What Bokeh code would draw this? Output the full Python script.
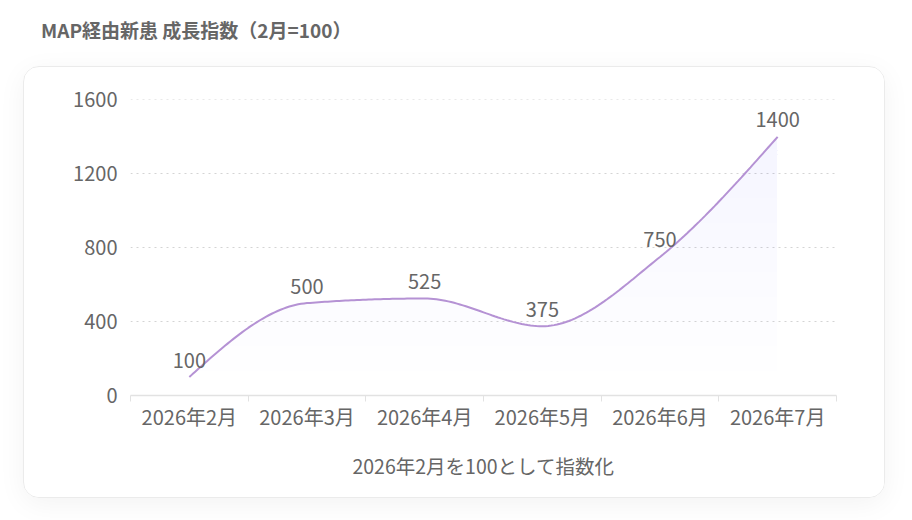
import numpy as np
from bokeh.plotting import figure
from bokeh.models import FixedTicker, Div, ColumnDataSource
from bokeh.layouts import column
from bokeh.core.properties import value
from bokeh.embed import file_html
from bokeh.resources import INLINE

# データ
months = ["2026年2月", "2026年3月", "2026年4月", "2026年5月", "2026年6月", "2026年7月"]
index_values = [100, 500, 525, 375, 750, 1400]
y_ticks = [0, 400, 800, 1200, 1600]
title_text = "MAP経由新患 成長指数（2月=100）"
axis_title = "2026年2月を100として指数化"

FONT = "Noto Sans CJK JP"
GRAY = "#666666"
LINE = "#b592d4"
FILL = "#c49bd8"

x_pos = np.arange(len(months)) + 0.5
y_val = np.array(index_values, dtype=float)


def monotone_curve(x, y, steps=40):
    # d3 monotoneX と同じ傾きで三次ベジェ補間
    n = len(x)
    h = np.diff(x)
    s = np.diff(y) / h
    t = np.zeros(n)
    for i in range(1, n - 1):
        p = (s[i - 1] * h[i] + s[i] * h[i - 1]) / (h[i - 1] + h[i])
        t[i] = (np.sign(s[i - 1]) + np.sign(s[i])) * min(abs(s[i - 1]), abs(s[i]), 0.5 * abs(p))
    t[0] = (3 * s[0] - t[1]) / 2
    t[-1] = (3 * s[-1] - t[-2]) / 2
    xs, ys = [], []
    for i in range(n - 1):
        dx = h[i] / 3
        p0 = (x[i], y[i])
        p1 = (x[i] + dx, y[i] + dx * t[i])
        p2 = (x[i + 1] - dx, y[i + 1] - dx * t[i + 1])
        p3 = (x[i + 1], y[i + 1])
        u = np.linspace(0, 1, steps, endpoint=(i == n - 2))
        a, b, c, d = (1 - u) ** 3, 3 * u * (1 - u) ** 2, 3 * u ** 2 * (1 - u), u ** 3
        xs.extend(a * p0[0] + b * p1[0] + c * p2[0] + d * p3[0])
        ys.extend(a * p0[1] + b * p1[1] + c * p2[1] + d * p3[1])
    return np.array(xs), np.array(ys)


cx, cy = monotone_curve(x_pos, y_val)

p = figure(width=862, height=432, x_range=(0, len(months)), y_range=(0, y_ticks[-1] + 2),
           output_backend="svg", toolbar_location=None,
           min_border_left=106, min_border_right=50, min_border_top=32, min_border_bottom=104)
p.outline_line_color = None
p.background_fill_color = "white"
p.border_fill_color = "white"
p.styles = {"border-radius": "16px", "border": "1px solid #ebebeb",
            "box-shadow": "0 6px 28px rgba(0,0,0,0.05)", "overflow": "hidden",
            "transform": "translateX(23px)"}

# グラデーション風の塗り（上ほど濃い）
n_bands = 12
for k in range(1, n_bands + 1):
    level = y_ticks[-1] * k / n_bands
    lower = np.minimum(cy, level)
    p.varea(x=cx, y1=lower, y2=cy, fill_color=FILL, fill_alpha=0.01)

p.line(cx, cy, line_color=LINE, line_width=2)

src = ColumnDataSource(dict(x=x_pos, y=y_val, label=[str(v) for v in index_values]))
p.text(x="x", y="y", text="label", source=src, text_align="center", text_baseline="middle",
       y_offset=-17, text_color=GRAY, text_font=value(FONT), text_font_size="20px")

# x 軸
p.xaxis.ticker = FixedTicker(ticks=list(x_pos), minor_ticks=list(range(len(months) + 1)))
p.xaxis.major_label_overrides = {float(xp): m for xp, m in zip(x_pos, months)}
p.xaxis.major_tick_out = 0
p.xaxis.major_tick_in = 0
p.xaxis.minor_tick_out = 6
p.xaxis.minor_tick_in = 0
p.xaxis.minor_tick_line_color = "#e2e2e2"
p.xaxis.axis_line_color = "#e2e2e2"
p.xaxis.axis_line_width = 1.5
p.xaxis.major_label_standoff = 0
p.xaxis.major_label_text_font = FONT
p.xaxis.major_label_text_font_size = "20px"
p.xaxis.major_label_text_color = GRAY
p.xaxis.axis_label = axis_title
p.xaxis.axis_label_text_font = FONT
p.xaxis.axis_label_text_font_size = "19.5px"
p.xaxis.axis_label_text_font_style = "normal"
p.xaxis.axis_label_text_color = GRAY
p.xaxis.axis_label_standoff = 17

# y 軸
p.yaxis.ticker = FixedTicker(ticks=y_ticks)
p.yaxis.axis_line_color = None
p.yaxis.major_tick_line_color = None
p.yaxis.minor_tick_line_color = None
p.yaxis.major_label_standoff = 7
p.yaxis.major_label_text_font = FONT
p.yaxis.major_label_text_font_size = "20px"
p.yaxis.major_label_text_color = GRAY

p.xgrid.grid_line_color = None
p.ygrid.grid_line_color = "#d4d4d4"
p.ygrid.grid_line_dash = "2 4"
p.ygrid.grid_line_width = 1

title = Div(text=title_text, width=880, height=56,
            styles={"font-family": FONT, "font-size": "19px", "font-weight": "600",
                    "color": GRAY, "padding-left": "36px", "padding-top": "11px",
                    "line-height": "28px"})

layout = column(title, p, spacing=0)
open("out.html", "w").write(file_html(layout, INLINE))
